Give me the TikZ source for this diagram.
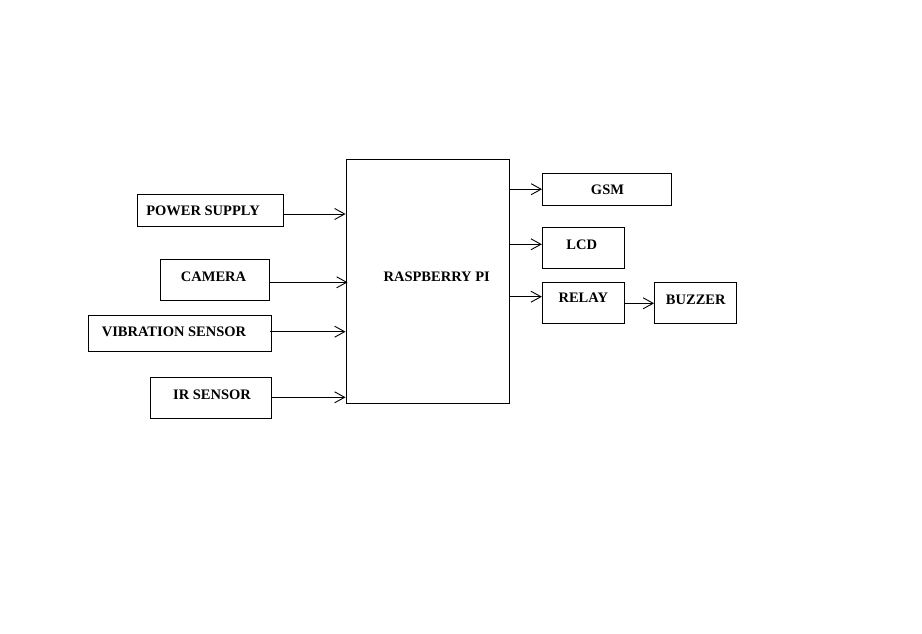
\documentclass[tikz,border=0pt]{standalone}
\usepackage{fontspec}
\setmainfont{Liberation Serif}
\usetikzlibrary{arrows.meta}
\begin{document}
\begin{tikzpicture}[x=1pt,y=-1pt,
  box/.style={draw, line width=0.9pt, rectangle, inner sep=0pt},
  lbl/.style={font=\fontsize{14.5}{16}\selectfont\bfseries, inner sep=0pt},
  conn/.style={line width=0.9pt, -{Straight Barb[length=10pt,width=11pt,line width=0.9pt]}}]
\useasboundingbox (0,0) rectangle (922,634);
\fill[white] (0,0) rectangle (922,634);
% boxes
\node[box, minimum width=146pt, minimum height=32pt] (ps) at (210,210) {};
\node[box, minimum width=109pt, minimum height=41pt] (cam) at (214.8,279.7) {};
\node[box, minimum width=183pt, minimum height=36pt] (vib) at (180,333) {};
\node[box, minimum width=121pt, minimum height=41pt] (ir) at (211,398) {};
\node[box, minimum width=163pt, minimum height=244pt] (rpi) at (427.5,281.3) {};
\node[box, minimum width=129pt, minimum height=32pt] (gsm) at (607,189.2) {};
\node[box, minimum width=82pt, minimum height=41pt] (lcd) at (583.3,247.8) {};
\node[box, minimum width=82pt, minimum height=41pt] (relay) at (583.3,302.5) {};
\node[box, minimum width=82pt, minimum height=41pt] (buzzer) at (695.5,302.8) {};
% labels
\node[lbl] (tps) at (203,211) {POWER SUPPLY};
\node[lbl] (tcam) at (213.5,276.5) {CAMERA};
\node[lbl] (tvib) at (174,332) {VIBRATION SENSOR};
\node[lbl] (tir) at (212,394.5) {IR SENSOR};
\node[lbl] (trpi) at (436.7,276.5) {RASPBERRY PI};
\node[lbl] (tgsm) at (607.5,190) {GSM};
\node[lbl] (tlcd) at (581.7,244.5) {LCD};
\node[lbl] (trelay) at (583.3,298) {RELAY};
\node[lbl] (tbuzzer) at (695.8,299.5) {BUZZER};
% connectors
\draw[conn] ([yshift=-4]ps.east) -- ([yshift=-4]ps.east -| rpi.west);
\draw[conn] ([yshift=-2.6]cam.east) -- ([yshift=-2.6,xshift=2]cam.east -| rpi.west);
\draw[conn] ([yshift=1.3,xshift=-2.4]vib.east) -- ([yshift=1.3]vib.east -| rpi.west);
\draw[conn] ([yshift=0.7]ir.east) -- ([yshift=0.7]ir.east -| rpi.west);
\draw[conn] (gsm.west -| rpi.east) -- (gsm.west);
\draw[conn] ([yshift=3.5]lcd.west -| rpi.east) -- ([yshift=3.5]lcd.west);
\draw[conn] ([yshift=5.8]relay.west -| rpi.east) -- ([yshift=5.8]relay.west);
\draw[conn] ([yshift=-0.8]relay.east) -- ([yshift=-0.8]relay.east -| buzzer.west);
\end{tikzpicture}
\end{document}
